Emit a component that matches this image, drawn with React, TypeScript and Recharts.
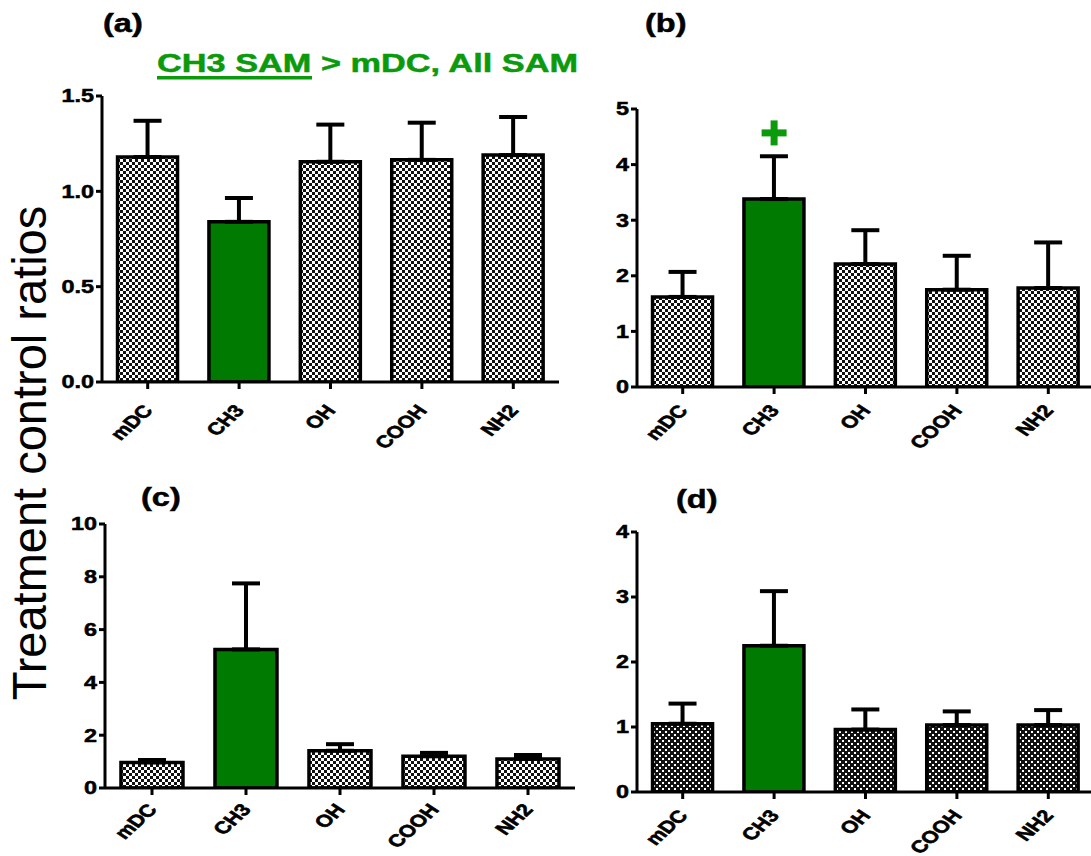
import { ComposedChart, Bar, Cell, XAxis, YAxis, ErrorBar, Scatter } from "recharts";

// ── Data 
const CATEGORIES = ["mDC", "CH3", "OH", "COOH", "NH2"];
const HIGHLIGHT = "CH3";

// (a)
const A_MEAN = [1.18, 0.84, 1.155, 1.165, 1.19];
const A_UPPER = [1.37, 0.965, 1.35, 1.36, 1.39];
const A_TICKS = [0, 0.5, 1.0, 1.5];

// (b)
const B_MEAN = [1.62, 3.38, 2.21, 1.75, 1.78];
const B_UPPER = [2.07, 4.15, 2.82, 2.36, 2.6];
const B_SIG = [null, 4.57, null, null, null];
const B_TICKS = [0, 1, 2, 3, 4, 5];

// (c)
const C_MEAN = [0.97, 5.25, 1.41, 1.2, 1.1];
const C_UPPER = [1.06, 7.75, 1.66, 1.33, 1.25];
const C_TICKS = [0, 2, 4, 6, 8, 10];

// (d)
const D_MEAN = [1.05, 2.25, 0.96, 1.03, 1.03];
const D_UPPER = [1.36, 3.09, 1.27, 1.24, 1.26];
const D_TICKS = [0, 1, 2, 3, 4];

const FONT = "'Liberation Sans', Arial, Helvetica, sans-serif";
const BAR_GREEN = "#007a00";
const TEXT_GREEN = "#0b9a0b";
const STRETCH = 1.3; // the figure is stretched horizontally

// ── Ticks 
function XTick({ x, y, payload, dy = 17 }: any) {
  return (
    <g transform={`translate(${x + 6},${y + dy}) scale(${STRETCH},1)`}>
      <text
        x={0}
        y={0}
        textAnchor="end"
        transform="rotate(-50)"
        fontFamily={FONT}
        fontWeight="bold"
        fontSize={17}
        fill="#000"
        stroke="#000"
        strokeWidth={0.6}
      >
        {payload.value}
      </text>
    </g>
  );
}

function YTick({ x, y, payload, fmt }: any) {
  return (
    <g transform={`translate(${x},${y}) scale(${STRETCH},1)`}>
      <text
        x={0}
        y={0}
        dy="0.36em"
        textAnchor="end"
        fontFamily={FONT}
        fontWeight="bold"
        fontSize={18}
        fill="#000"
        stroke="#000"
        strokeWidth={0.5}
      >
        {fmt ? fmt(payload.value) : payload.value}
      </text>
    </g>
  );
}

const PlusShape = (props: any) => {
  const { cx, cy, payload } = props;
  if (payload?.sig == null || cx == null || cy == null || isNaN(cy)) return <g />;
  return (
    <g fill={TEXT_GREEN}>
      <rect x={cx - 12.5} y={cy - 3.5} width={25} height={7} />
      <rect x={cx - 3.5} y={cy - 12.5} width={7} height={25} />
    </g>
  );
};

// ── One panel 
function Panel({ left, top, width, height, margin, means, uppers, ticks, fmt, pattern, sig, tickDy }: any) {
  const data = CATEGORIES.map((c, i) => ({
    name: c,
    mean: means[i],
    err: [0, uppers[i] - means[i]],
    sig: sig ? sig[i] : null,
  }));
  return (
    <div style={{ position: "absolute", left, top }}>
      <ComposedChart width={width} height={height} data={data} margin={margin} barCategoryGap="17%">
        <XAxis
          dataKey="name"
          interval={0}
          height={60}
          tickSize={7}
          tickMargin={0}
          axisLine={{ stroke: "#000", strokeWidth: 3 }}
          tickLine={{ stroke: "#000", strokeWidth: 3 }}
          tick={<XTick dy={tickDy} />}
        />
        <YAxis
          width={60}
          domain={[ticks[0], ticks[ticks.length - 1]]}
          ticks={ticks}
          interval={0}
          allowDataOverflow
          tickSize={6}
          axisLine={{ stroke: "#000", strokeWidth: 3 }}
          tickLine={{ stroke: "#000", strokeWidth: 3 }}
          tick={<YTick fmt={fmt} />}
        />
        <Bar dataKey="mean" stroke="#000" strokeWidth={3.5} isAnimationActive={false}>
          {data.map((d) => (
            <Cell key={d.name} fill={d.name === HIGHLIGHT ? BAR_GREEN : `url(#${pattern})`} stroke="#000" strokeWidth={3.5} />
          ))}
          <ErrorBar dataKey="err" direction="y" width={14} stroke="#000" strokeWidth={4} isAnimationActive={false} />
        </Bar>
        {sig && <Scatter dataKey="sig" shape={PlusShape} isAnimationActive={false} />}
      </ComposedChart>
    </div>
  );
}

export default function App() {
  return (
    <div style={{ position: "absolute", left: 0, top: 0, width: 1091, height: 856, overflow: "hidden", background: "#fff" }}>
      <svg width={0} height={0} style={{ position: "absolute" }}>
        <defs>
          <pattern id="check" width={6} height={6} patternUnits="userSpaceOnUse">
            <rect width={6} height={6} fill="#fff" />
            <rect x={0} y={0} width={3} height={3} fill="#111" />
            <rect x={3} y={3} width={3} height={3} fill="#111" />
          </pattern>
          <pattern id="dots" width={6} height={6} patternUnits="userSpaceOnUse">
            <rect width={6} height={6} fill="#111" />
            <rect x={0} y={0} width={2} height={2} fill="#fff" />
            <rect x={3} y={3} width={2} height={2} fill="#fff" />
          </pattern>
        </defs>
      </svg>

      <Panel
        left={0} top={0} width={560} height={470}
        margin={{ top: 96, right: 1, bottom: 28, left: 42 }}
        means={A_MEAN} uppers={A_UPPER} ticks={A_TICKS}
        fmt={(v: number) => v.toFixed(1)} pattern="check" tickDy={22}
      />
      <Panel
        left={560} top={0} width={540} height={470}
        margin={{ top: 109, right: 6, bottom: 23, left: 17 }}
        means={B_MEAN} uppers={B_UPPER} ticks={B_TICKS} sig={B_SIG}
        pattern="check" tickDy={17}
      />
      <Panel
        left={0} top={440} width={580} height={416}
        margin={{ top: 84, right: 5, bottom: 8, left: 45 }}
        means={C_MEAN} uppers={C_UPPER} ticks={C_TICKS}
        pattern="check" tickDy={15}
      />
      <Panel
        left={560} top={440} width={540} height={416}
        margin={{ top: 92, right: 6, bottom: 4, left: 17 }}
        means={D_MEAN} uppers={D_UPPER} ticks={D_TICKS}
        pattern="dots" tickDy={17}
      />

      <svg width={1091} height={856} style={{ position: "absolute", left: 0, top: 0, pointerEvents: "none" }}>
        <g fontFamily={FONT} fontWeight="bold" fontSize={26} fill="#000" stroke="#000" strokeWidth={0.5}>
          <text transform={`translate(103,32) scale(1.25,1)`}>(a)</text>
          <text transform={`translate(645,32) scale(1.25,1)`}>(b)</text>
          <text transform={`translate(141,506) scale(1.25,1)`}>(c)</text>
          <text transform={`translate(676,508) scale(1.25,1)`}>(d)</text>
        </g>
        <text
          transform="translate(157,72) scale(1.32,1)"
          fontFamily={FONT}
          fontWeight="bold"
          fontSize={26}
          fill={TEXT_GREEN}
          stroke={TEXT_GREEN}
          strokeWidth={0.5}
        >
          CH3 SAM &gt; mDC, All SAM
        </text>
        <rect x={157} y={76} width={155} height={3.5} fill={TEXT_GREEN} />
        <text
          transform="translate(46,453) scale(1.02,1) rotate(-90)"
          textAnchor="middle"
          fontFamily={FONT}
          fontSize={47}
          fill="#000"
        >
          Treatment control ratios
        </text>
      </svg>
    </div>
  );
}
